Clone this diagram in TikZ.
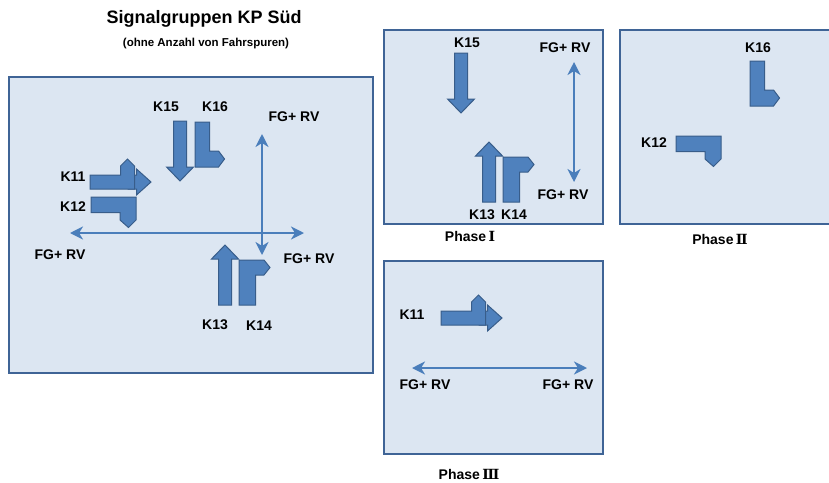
\documentclass[tikz,border=0pt]{standalone}
\usepackage{fontspec}
\setmainfont{Liberation Sans}
\newfontfamily\romfont{DejaVu Serif}
\usetikzlibrary{arrows.meta}
\definecolor{boxfill}{HTML}{DCE6F2}
\definecolor{boxline}{HTML}{3F6496}
\definecolor{sigfill}{HTML}{4F81BD}
\definecolor{sigline}{HTML}{385D8A}
\definecolor{arrc}{HTML}{4A7EBB}
\tikzset{
  x=1pt, y=-1pt,
  panel/.style={fill=boxfill, draw=boxline, line width=1.5pt},
  sig/.style={fill=sigfill, draw=sigline, line width=1pt, line join=miter},
  dbl/.style={draw=arrc, line width=2.8pt, {Stealth[length=13pt,width=13pt,inset=4pt]}-{Stealth[length=13pt,width=13pt,inset=4pt]}},
  lbl/.style={font=\bfseries\fontsize{14}{16}\selectfont, inner sep=0pt},
  phase/.style={font=\bfseries\fontsize{14}{16}\selectfont, inner sep=0pt},
  straightarrow/.pic={\path[sig] (-6.5,0) -- (6.5,0) -- (6.5,46) -- (13.5,46) -- (0,60) -- (-13.5,46) -- (-6.5,46) -- cycle;},
  upright/.pic={\path[sig] (0,0) -- (0,-45) -- (25,-45) -- (31,-37.5) -- (25,-30) -- (16.5,-30) -- (16.5,0) -- cycle;},
  downright/.pic={\path[sig] (0,0) -- (14.5,0) -- (14.5,29) -- (23.5,29) -- (29.5,37) -- (23.5,45) -- (0,45) -- cycle;},
  rightdown/.pic={\path[sig] (0,0) -- (45,0) -- (45,23) -- (37.5,30.5) -- (29,23) -- (29,15.5) -- (0,15.5) -- cycle;},
  straightleft/.pic={
    \path[sig] (38,0) -- (46.5,0) -- (46.5,-6) -- (61,7) -- (46.5,20) -- (46.5,14) -- (38,14) -- cycle;
    \path[sig] (0,0) -- (30.5,0) -- (30.5,-9) -- (37.5,-16) -- (44.5,-9) -- (44.5,14) -- (0,14) -- cycle;}
}
\begin{document}
\begin{tikzpicture}
\useasboundingbox (0,0) rectangle (829,482);
% panels
\draw[panel] (9,77) rectangle (373,373);
\draw[panel] (384,30) rectangle (603,224);
\draw[panel] (620,30) rectangle (840,224);
\draw[panel] (384,261) rectangle (603,454);
% title
\node[font=\bfseries\fontsize{18}{20}\selectfont, inner sep=0pt] (title) at (204,19) {Signalgruppen KP Süd};
\node[font=\bfseries\fontsize{11.5}{13}\selectfont, inner sep=0pt] (sub) at (206,44) {(ohne Anzahl von Fahrspuren)};
% ---------- main panel ----------
\pic at (180,121) {straightarrow};
\pic[yscale=-1] at (225,305) {straightarrow};
\pic at (239,305) {upright};
\pic at (195,122) {downright};
\pic at (91,197) {rightdown};
\pic at (90,175) {straightleft};
\coordinate (mw) at (70,233); \coordinate (me) at (304,233);
\coordinate (mn) at (262,134); \coordinate (ms) at (262,255);
\draw[dbl] (mw) -- (me);
\draw[dbl] (mn) -- (ms);
\node[lbl] (mK15) at (166,107) {K15};
\node[lbl] (mK16) at (215,107) {K16};
\node[lbl] (mK11) at (73,177) {K11};
\node[lbl] (mK12) at (73,207) {K12};
\node[lbl] (mK13) at (215,325) {K13};
\node[lbl] (mK14) at (259,326) {K14};
\node[lbl] (mFGn) at (294,117) {FG+ RV};
\node[lbl] (mFGw) at (60,255) {FG+ RV};
\node[lbl] (mFGe) at (309,259) {FG+ RV};
% ---------- Phase I ----------
\pic at (461,53) {straightarrow};
\pic[yscale=-1] at (489,202) {straightarrow};
\pic at (503,202) {upright};
\coordinate (pn) at (574,62); \coordinate (ps) at (574,182);
\draw[dbl] (pn) -- (ps);
\node[lbl] (aK15) at (467,43) {K15};
\node[lbl] (aK13) at (482,215) {K13};
\node[lbl] (aK14) at (514,215) {K14};
\node[lbl] (aFGn) at (565,48) {FG+ RV};
\node[lbl] (aFGs) at (563,195) {FG+ RV};
\node[phase] (ph1) at (470,236) {Phase\,{\romfont Ⅰ}};
% ---------- Phase II ----------
\pic at (750,61) {downright};
\pic at (676,136) {rightdown};
\node[lbl] (bK16) at (758,48) {K16};
\node[lbl] (bK12) at (654,143) {K12};
\node[phase] (ph2) at (720,239) {Phase\,{\romfont Ⅱ}};
% ---------- Phase III ----------
\pic at (441,311) {straightleft};
\coordinate (cw) at (412,368); \coordinate (ce) at (587,368);
\draw[dbl] (cw) -- (ce);
\node[lbl] (cK11) at (412,315) {K11};
\node[lbl] (cFGw) at (425,385) {FG+ RV};
\node[lbl] (cFGe) at (568,385) {FG+ RV};
\node[phase] (ph3) at (469,474) {Phase\,{\romfont Ⅲ}};
\end{tikzpicture}
\end{document}
